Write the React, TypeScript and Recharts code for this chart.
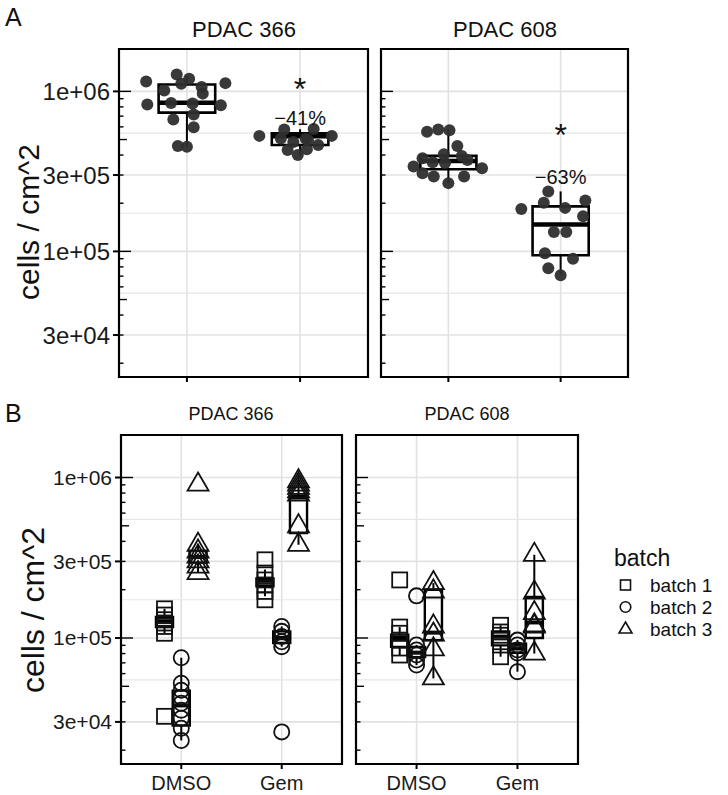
import React from 'react'
import {
  ComposedChart,
  Scatter,
  XAxis,
  YAxis,
  CartesianGrid,
  ReferenceArea,
  ReferenceLine,
} from 'recharts'

const FONT = '"Liberation Sans", Arial, Helvetica, sans-serif'

// axis setup
const Y_MIN = 16400
const Y_MAX = 1840000
const Y_BREAKS = [30000, 100000, 300000, 1000000]
const Y_LABELS = ['3e+04', '1e+05', '3e+05', '1e+06']
const Y_MINOR = [54800, 173000, 548000]
const LOG_TICKS = [
  20000, 30000, 40000, 50000, 60000, 70000, 80000, 90000,
  100000, 200000, 300000, 400000, 500000, 600000, 700000, 800000, 900000,
  1000000,
]
const TREATMENTS = ['DMSO', 'Gem']
const BATCHES = ['batch 1', 'batch 2', 'batch 3']

// panel A: jittered points [x, cells/cm^2]
const a366Dmso = [
  [0.64, 1154000], [0.91, 1275000], [1.02, 1200000], [0.95, 1116000], [0.8, 1014000],
  [1.13, 1064000], [1.14, 968000], [1.34, 1126000], [0.65, 827000], [0.86, 846000],
  [1.05, 839000], [1.3, 819000], [0.88, 667000], [1.06, 716000], [1.06, 596000],
  [0.92, 455000], [1.0, 451000],
]
const a366Gem = [
  [1.64, 527000], [1.86, 578000], [2.12, 581000], [2.28, 527000], [1.89, 430000],
  [1.98, 400000], [2.06, 435000], [1.83, 508000], [2.07, 496000], [1.94, 482000],
  [2.16, 462000], [2.05, 506000],
]
const a608Dmso = [
  [0.81, 559000], [0.91, 578000], [1.01, 572000], [1.08, 455000], [0.96, 404000],
  [0.77, 382000], [0.69, 339000], [1.3, 331000], [1.12, 395000], [0.77, 308000],
  [0.87, 294000], [1.0, 267000], [1.14, 294000], [0.97, 357000], [1.17, 373000],
  [0.86, 360000],
]
const a608Gem = [
  [1.89, 237000], [1.85, 201000], [1.65, 184000], [2.04, 187000], [2.22, 208000],
  [2.2, 166000], [1.94, 132000], [2.05, 132000], [1.86, 97200], [2.11, 90000],
  [1.89, 78400], [2.0, 71000],
]

const a366Boxes = [
  { treatment: 'DMSO', lo: 451000, q1: 737000, med: 850000, q3: 1105000, hi: 1250000 },
  { treatment: 'Gem', lo: 395000, q1: 462000, med: 525000, q3: 546000, hi: 580000 },
]
const a608Boxes = [
  { treatment: 'DMSO', lo: 267000, q1: 326000, med: 367000, q3: 395000, hi: 578000 },
  { treatment: 'Gem', lo: 71000, q1: 94500, med: 147000, q3: 191000, hi: 237000 },
]

const a366Notes = [
  { treatment: 'Gem', y: 1040000, label: '*', size: 32 },
  { treatment: 'Gem', y: 682000, label: '\u221241%', size: 20 },
]
const a608Notes = [
  { treatment: 'Gem', y: 535000, label: '*', size: 32 },
  { treatment: 'Gem', y: 293000, label: '\u221263%', size: 20 },
]

// panel B: values by cell line / treatment / batch
const b366DmsoB1 = [152000, 139000, 130000, 124000, 118000, 107000, 32500]
const b366DmsoB2 = [75300, 52300, 47300, 42800, 39200, 35500, 31600, 27400, 23000]
const b366DmsoB3 = [904000, 381000, 346000, 322000, 300000, 279000, 254000]
const b366GemB1 = [307000, 254000, 230000, 214000, 195000, 173000]
const b366GemB2 = [118000, 110000, 102000, 94800, 88300, 26000]
const b366GemB3 = [948000, 904000, 862000, 821000, 783000, 497000, 381000]

const b608DmsoB1 = [230000, 117000, 107000, 97000, 86600, 78300]
const b608DmsoB2 = [183000, 90400, 84100, 78300, 72900, 67800]
const b608DmsoB3 = [220000, 195000, 118000, 105000, 85000, 56000]
const b608GemB1 = [120000, 109000, 104000, 90400, 76400]
const b608GemB2 = [97000, 90400, 84100, 80600, 61700]
const b608GemB3 = [330000, 192000, 143000, 120000, 118000, 80000]

const b366Boxes = [
  { treatment: 'DMSO', batch: 'batch 1', lo: 107000, q1: 117000, med: 126000, q3: 135000, hi: 152000 },
  { treatment: 'DMSO', batch: 'batch 2', lo: 23000, q1: 28500, med: 38000, q3: 47000, hi: 75300 },
  { treatment: 'DMSO', batch: 'batch 3', lo: 254000, q1: 295000, med: 320000, q3: 350000, hi: 381000 },
  { treatment: 'Gem', batch: 'batch 1', lo: 182000, q1: 210000, med: 227000, q3: 235000, hi: 267000 },
  { treatment: 'Gem', batch: 'batch 2', lo: 88300, q1: 93000, med: 100000, q3: 110000, hi: 118000 },
  { treatment: 'Gem', batch: 'batch 3', lo: 381000, q1: 450000, med: 750000, q3: 770000, hi: 948000 },
]
const b608Boxes = [
  { treatment: 'DMSO', batch: 'batch 1', lo: 78300, q1: 88000, med: 100000, q3: 105000, hi: 117000 },
  { treatment: 'DMSO', batch: 'batch 2', lo: 67800, q1: 76000, med: 81000, q3: 88000, hi: 90400 },
  { treatment: 'DMSO', batch: 'batch 3', lo: 56000, q1: 97000, med: 108000, q3: 200000, hi: 220000 },
  { treatment: 'Gem', batch: 'batch 1', lo: 76400, q1: 90000, med: 102000, q3: 110000, hi: 120000 },
  { treatment: 'Gem', batch: 'batch 2', lo: 61700, q1: 81000, med: 86000, q3: 92000, hi: 97000 },
  { treatment: 'Gem', batch: 'batch 3', lo: 80000, q1: 100000, med: 125000, q3: 180000, hi: 330000 },
]

const DODGE = 0.167
const catX = (t: string) => TREATMENTS.indexOf(t) + 1
const batchX = (t: string, b: string) => catX(t) + (BATCHES.indexOf(b) - 1) * DODGE
const toPts = (arr: number[][]) => arr.map(([x, y]) => ({ x, y }))
const colPts = (t: string, b: string, vals: number[]) => vals.map((y) => ({ x: batchX(t, b), y }))

const INK = '#111'

const dotShape = (p: any) => (
  <circle cx={p.cx} cy={p.cy} r={6} fill="#2e2e2e" fillOpacity={0.95} />
)
const squareShape = (p: any) => (
  <rect x={p.cx - 7.5} y={p.cy - 7.5} width={15} height={15} fill="none" stroke={INK} strokeWidth={1.8} />
)
const circleShape = (p: any) => (
  <circle cx={p.cx} cy={p.cy} r={7.6} fill="none" stroke={INK} strokeWidth={1.8} />
)
const triangleShape = (p: any) => (
  <polygon
    points={`${p.cx},${p.cy - 12.1} ${p.cx + 10.5},${p.cy + 6.05} ${p.cx - 10.5},${p.cy + 6.05}`}
    fill="none"
    stroke={INK}
    strokeWidth={1.8}
  />
)
const SHAPES = [squareShape, circleShape, triangleShape]
const noteShape = (p: any) => (
  <text
    x={p.cx}
    y={p.cy}
    textAnchor="middle"
    dominantBaseline="central"
    fontSize={p.payload.size}
    fontFamily={FONT}
    fill="#111"
  >
    {p.payload.label}
  </text>
)

function boxElements(boxes: any[], xOf: (b: any) => number, hw: number, bw: number, mw: number, key: string) {
  const out: React.ReactNode[] = []
  boxes.forEach((b, i) => {
    const x = xOf(b)
    out.push(
      <ReferenceLine key={`${key}-wu${i}`} segment={[{ x, y: b.q3 }, { x, y: b.hi }]} stroke="#000" strokeWidth={2} />,
      <ReferenceLine key={`${key}-wl${i}`} segment={[{ x, y: b.lo }, { x, y: b.q1 }]} stroke="#000" strokeWidth={2} />,
      <ReferenceArea key={`${key}-b${i}`} x1={x - hw} x2={x + hw} y1={b.q1} y2={b.q3} fill="none" fillOpacity={0} stroke="#000" strokeWidth={bw} />,
      <ReferenceLine key={`${key}-m${i}`} segment={[{ x: x - hw, y: b.med }, { x: x + hw, y: b.med }]} stroke="#000" strokeWidth={mw} />
    )
  })
  return out
}

function LogTick(props: any) {
  const { y, payload, plotLeft, showLabels, fontSize } = props
  const v = payload.value as number
  const mant = Math.round(v / Math.pow(10, Math.floor(Math.log10(v) + 1e-9)))
  const len = mant === 1 ? 12 : mant === 5 ? 8 : 4.5
  const idx = Y_BREAKS.indexOf(v)
  return (
    <g>
      <line x1={plotLeft} x2={plotLeft + len} y1={y} y2={y} stroke="#000" strokeWidth={1.4} />
      {showLabels && idx >= 0 && (
        <g>
          <line x1={plotLeft - 6} x2={plotLeft} y1={y} y2={y} stroke="#000" strokeWidth={2} />
          <text
            x={plotLeft - 9}
            y={y}
            textAnchor="end"
            dominantBaseline="central"
            fontSize={fontSize}
            fontFamily={FONT}
            fill="#1a1a1a"
          >
            {Y_LABELS[idx]}
          </text>
        </g>
      )}
    </g>
  )
}

function Facet({
  left, top, w, h, showY, xLabels, yFont, xFont, children,
}: {
  left: number; top: number; w: number; h: number; showY: boolean; xLabels: boolean
  yFont: number; xFont: number; children: React.ReactNode
}) {
  const ML = showY ? 115 : 2
  const MT = 3
  const MR = 4
  const MB = xLabels ? 36 : 10
  return (
    <div style={{ position: 'absolute', left: left - ML, top: top - MT }}>
      <ComposedChart width={ML + w + MR} height={MT + h + MB} margin={{ top: MT, right: MR, bottom: 0, left: 0 }}>
        <CartesianGrid stroke="#e2e2e2" strokeWidth={1.6} horizontalValues={Y_BREAKS} verticalValues={[1, 2]} />
        <CartesianGrid stroke="#e6e6e6" strokeWidth={1.1} horizontalValues={Y_MINOR} vertical={false} />
        <XAxis
          type="number"
          dataKey="x"
          domain={[0.4, 2.6]}
          allowDataOverflow
          ticks={[1, 2]}
          interval={0}
          height={MB}
          tickSize={5}
          tickMargin={7}
          axisLine={false}
          tickLine={{ stroke: '#000', strokeWidth: 2 }}
          tickFormatter={(v: number) => (xLabels ? TREATMENTS[v - 1] : '')}
          tick={{ fontSize: xFont, fill: '#1a1a1a', fontFamily: FONT }}
        />
        <YAxis
          type="number"
          dataKey="y"
          scale="log"
          domain={[Y_MIN, Y_MAX]}
          allowDataOverflow
          ticks={LOG_TICKS}
          interval={0}
          width={ML}
          axisLine={false}
          tickLine={false}
          tick={(p: any) => <LogTick {...p} plotLeft={ML} showLabels={showY} fontSize={yFont} />}
        />
        {children}
        <ReferenceArea x1={0.4} x2={2.6} y1={Y_MIN} y2={Y_MAX} fill="none" fillOpacity={0} stroke="#000" strokeWidth={2.2} />
      </ComposedChart>
    </div>
  )
}

const txt = (style: React.CSSProperties): React.CSSProperties => ({
  position: 'absolute',
  fontFamily: FONT,
  color: '#111',
  whiteSpace: 'nowrap',
  lineHeight: 1,
  ...style,
})

function Legend() {
  const rows = BATCHES.map((b, i) => {
    const cy = 585 + i * 22
    return (
      <div key={b} style={txt({ left: 616, top: cy - 11, height: 22, display: 'flex', alignItems: 'center' })}>
        <svg width={20} height={22}>
          {i === 0 && <rect x={4.5} y={6} width={10} height={10} fill="none" stroke={INK} strokeWidth={1.6} />}
          {i === 1 && <circle cx={9.5} cy={11} r={5.3} fill="none" stroke={INK} strokeWidth={1.6} />}
          {i === 2 && <polygon points="9.5,4 16,15 3,15" fill="none" stroke={INK} strokeWidth={1.6} />}
        </svg>
        <span style={{ marginLeft: 14, fontSize: 19 }}>{b}</span>
      </div>
    )
  })
  return (
    <>
      <div style={txt({ left: 614, top: 547, fontSize: 23 })}>batch</div>
      {rows}
    </>
  )
}

const rotated = (cx: number, cy: number, size: number, text: string) => (
  <div
    style={txt({
      left: cx,
      top: cy,
      fontSize: size,
      transform: 'translate(-50%, -50%) rotate(-90deg)',
    })}
  >
    {text}
  </div>
)

export default function App() {
  const bSeries = (
    line: string,
    groups: { t: string; b: string; vals: number[] }[]
  ) =>
    groups.map((g) => (
      <Scatter
        key={`${line}-${g.t}-${g.b}`}
        data={colPts(g.t, g.b, g.vals)}
        shape={SHAPES[BATCHES.indexOf(g.b)]}
        isAnimationActive={false}
      />
    ))

  return (
    <div style={{ position: 'absolute', left: 0, top: 0, width: 728, height: 795, background: '#fff', overflow: 'hidden' }}>
      <div style={txt({ left: 5, top: 5, fontSize: 25 })}>A</div>
      <div style={txt({ left: 5, top: 401, fontSize: 25 })}>B</div>

      <div style={txt({ left: 244, top: 19, fontSize: 22, transform: 'translateX(-50%)' })}>PDAC 366</div>
      <div style={txt({ left: 505, top: 19, fontSize: 22, transform: 'translateX(-50%)' })}>PDAC 608</div>
      <div style={txt({ left: 231, top: 405, fontSize: 18, transform: 'translateX(-50%)' })}>PDAC 366</div>
      <div style={txt({ left: 467, top: 405, fontSize: 18, transform: 'translateX(-50%)' })}>PDAC 608</div>

      {rotated(29, 222, 30, 'cells / cm^2')}
      {rotated(33, 610, 32, 'cells / cm^2')}

      <Facet left={119} top={49} w={249} h={328} showY xLabels={false} yFont={24} xFont={20}>
        <Scatter data={toPts(a366Dmso)} shape={dotShape} isAnimationActive={false} />
        <Scatter data={toPts(a366Gem)} shape={dotShape} isAnimationActive={false} />
        {boxElements(a366Boxes, (b) => catX(b.treatment), 0.25, 2.6, 4.5, 'a366')}
        <Scatter data={a366Notes.map((n) => ({ x: catX(n.treatment), y: n.y, label: n.label, size: n.size }))} shape={noteShape} isAnimationActive={false} />
      </Facet>

      <Facet left={381} top={49} w={247} h={328} showY={false} xLabels={false} yFont={24} xFont={20}>
        <Scatter data={toPts(a608Dmso)} shape={dotShape} isAnimationActive={false} />
        <Scatter data={toPts(a608Gem)} shape={dotShape} isAnimationActive={false} />
        {boxElements(a608Boxes, (b) => catX(b.treatment), 0.25, 2.6, 4.5, 'a608')}
        <Scatter data={a608Notes.map((n) => ({ x: catX(n.treatment), y: n.y, label: n.label, size: n.size }))} shape={noteShape} isAnimationActive={false} />
      </Facet>

      <Facet left={121} top={435} w={221} h={329} showY xLabels yFont={21} xFont={20}>
        {boxElements(b366Boxes, (b) => batchX(b.treatment, b.batch), 0.085, 2.4, 4, 'b366')}
        {bSeries('366', [
          { t: 'DMSO', b: 'batch 1', vals: b366DmsoB1 },
          { t: 'DMSO', b: 'batch 2', vals: b366DmsoB2 },
          { t: 'DMSO', b: 'batch 3', vals: b366DmsoB3 },
          { t: 'Gem', b: 'batch 1', vals: b366GemB1 },
          { t: 'Gem', b: 'batch 2', vals: b366GemB2 },
          { t: 'Gem', b: 'batch 3', vals: b366GemB3 },
        ])}
      </Facet>

      <Facet left={356} top={435} w={222} h={329} showY={false} xLabels yFont={21} xFont={20}>
        {boxElements(b608Boxes, (b) => batchX(b.treatment, b.batch), 0.085, 2.4, 4, 'b608')}
        {bSeries('608', [
          { t: 'DMSO', b: 'batch 1', vals: b608DmsoB1 },
          { t: 'DMSO', b: 'batch 2', vals: b608DmsoB2 },
          { t: 'DMSO', b: 'batch 3', vals: b608DmsoB3 },
          { t: 'Gem', b: 'batch 1', vals: b608GemB1 },
          { t: 'Gem', b: 'batch 2', vals: b608GemB2 },
          { t: 'Gem', b: 'batch 3', vals: b608GemB3 },
        ])}
      </Facet>

      <Legend />
    </div>
  )
}
